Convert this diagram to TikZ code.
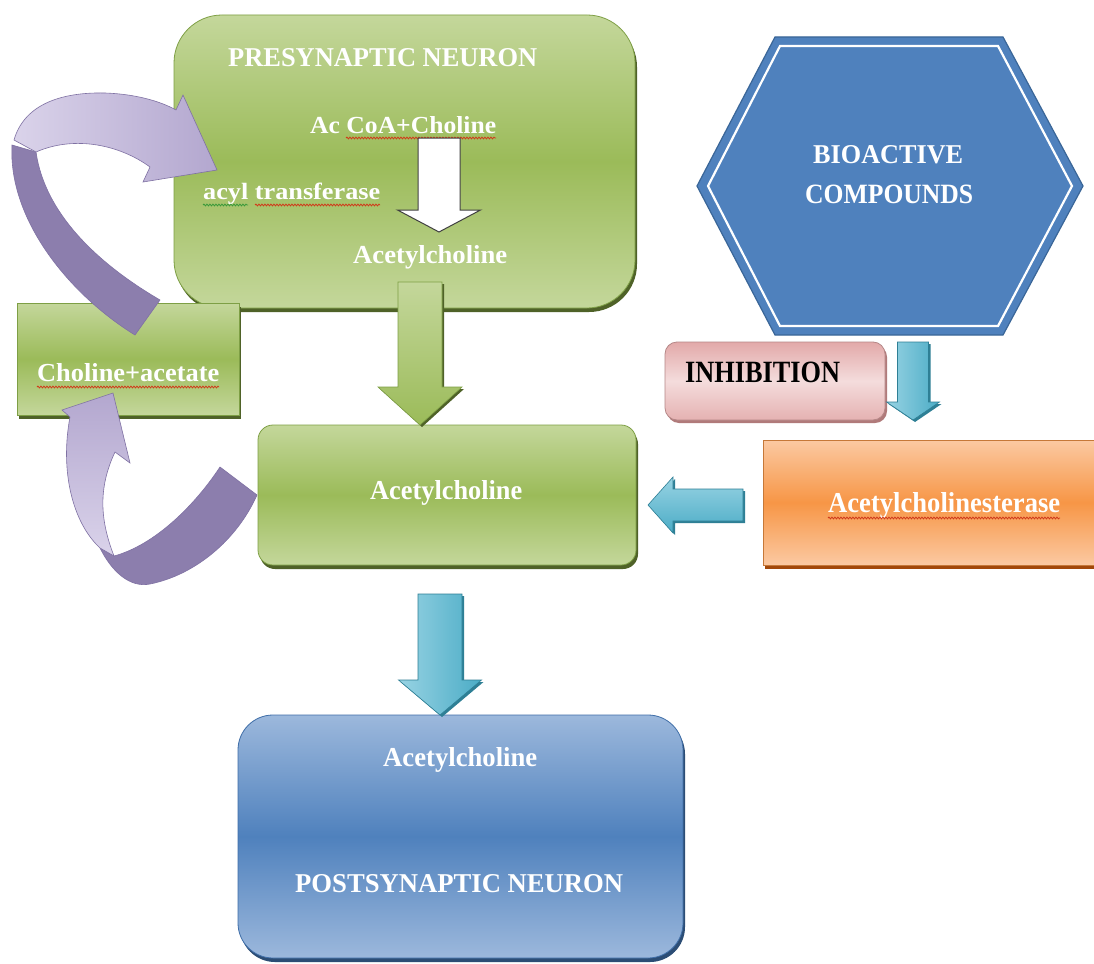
\documentclass[tikz,border=0pt]{standalone}
\usepackage{fontspec}
\setmainfont{Liberation Serif}
\usepackage{graphicx}
\usetikzlibrary{calc,shadows,decorations.pathmorphing}

\definecolor{gTop}{HTML}{C4D79B}
\definecolor{gMid}{HTML}{9BBB59}
\definecolor{gEdge}{HTML}{7E9F45}
\definecolor{gShadow}{HTML}{4F6228}
\definecolor{bTop}{HTML}{9CB8DC}
\definecolor{bMid}{HTML}{4F81BD}
\definecolor{bEdge}{HTML}{3F6EA8}
\definecolor{bShadow}{HTML}{2C4D75}
\definecolor{hexBlue}{HTML}{4F81BD}
\definecolor{hexEdge}{HTML}{3A6698}
\definecolor{pinkA}{HTML}{E2A9A9}
\definecolor{pinkB}{HTML}{F4DCDC}
\definecolor{pinkShadow}{HTML}{B07A7A}
\definecolor{orA}{HTML}{F79646}
\definecolor{orB}{HTML}{FBC9A2}
\definecolor{orShadow}{HTML}{A2480A}
\definecolor{tealM}{HTML}{4BACC6}
\definecolor{tealL}{HTML}{98D3E3}
\definecolor{tealD}{HTML}{2E7F95}
\definecolor{purD}{HTML}{8C7EAD}
\definecolor{purL}{HTML}{DAD3EA}
\definecolor{purM}{HTML}{B3A7CF}
\definecolor{purEdge}{HTML}{7F71A3}
\definecolor{squigRed}{HTML}{D03A1A}
\definecolor{squigGreen}{HTML}{3A9A3A}

\newcommand{\fitt}[3]{\resizebox{#1pt}{#2pt}{\bfseries #3}}
% vertical block arrow: style, start, tip, shaft half, head half, head length
\newcommand{\downblock}[6]{\path[#1] let \p1=(#2), \p2=(#3) in
  (\x2-#4,\y1) -- (\x2+#4,\y1) -- (\x2+#4,\y2+#6) -- (\x2+#5,\y2+#6) -- (\x2,\y2)
  -- (\x2-#5,\y2+#6) -- (\x2-#4,\y2+#6) -- cycle;}
% leftward block arrow
\newcommand{\leftblock}[6]{\path[#1] let \p1=(#2), \p2=(#3) in
  (\x1,\y2+#4) -- (\x2+#6,\y2+#4) -- (\x2+#6,\y2+#5) -- (\x2,\y2)
  -- (\x2+#6,\y2-#5) -- (\x2+#6,\y2-#4) -- (\x1,\y2-#4) -- cycle;}

\begin{document}
\begin{tikzpicture}[x=1pt,y=-1pt,
  lbl/.style={anchor=base west, inner sep=0pt, text=white},
  box/.style={inner sep=0pt, outer sep=0pt, line width=0.8pt},
  greenbox/.style={box, draw=gEdge, top color=gTop, bottom color=gTop, middle color=gMid,
     drop shadow={shadow xshift=2pt, shadow yshift=-4pt, fill=gShadow, opacity=1}},
  bluebox/.style={box, draw=bEdge, top color=bTop, bottom color=bTop, middle color=bMid,
     drop shadow={shadow xshift=2pt, shadow yshift=-4pt, fill=bShadow, opacity=1}},
  pinkbox/.style={box, draw=pinkA!80!black, top color=pinkA, bottom color=pinkA!90, middle color=pinkB,
     drop shadow={shadow xshift=2pt, shadow yshift=-3pt, fill=pinkShadow, opacity=1}},
  orangebox/.style={box, draw=orA!80!black, top color=orB, bottom color=orB, middle color=orA,
     drop shadow={shadow xshift=2pt, shadow yshift=-4pt, fill=orShadow, opacity=1}},
  squig/.style={decorate, decoration={snake, amplitude=0.9pt, segment length=3pt}, line width=0.8pt, draw=squigRed},
  greenarrow/.style={top color=gTop, bottom color=gMid, draw=gEdge, line width=0.6pt},
  tealdown/.style={left color=tealL, right color=tealM, draw=tealD, line width=0.6pt},
  tealleft/.style={top color=tealL, bottom color=tealM, draw=tealD, line width=0.6pt},
  arrshadow/.style={fill=#1, transform canvas={xshift=2pt, yshift=-2pt}},
  purdark/.style={fill=purD, draw=purEdge, line width=0.6pt},
  purlight/.style={left color=purL, right color=purM, draw=purEdge, line width=0.6pt},
  purlight2/.style={top color=purM, bottom color=purL, draw=purEdge, line width=0.6pt},
]
\useasboundingbox (0,0) rectangle (1094,963);
\fill[white] (0,0) rectangle (1094,963);

% ---------- boxes ----------
\node[greenbox, rounded corners=48pt, minimum width=461pt, minimum height=293pt] (pre) at (404.5,161.5) {};
\node[greenbox, minimum width=222pt, minimum height=112pt] (cho) at (128,359) {};
\node[greenbox, rounded corners=15pt, minimum width=378pt, minimum height=140pt] (mid) at (447,495) {};
\node[bluebox, rounded corners=35pt, minimum width=445pt, minimum height=243pt] (post) at (460.5,836.5) {};
\node[pinkbox, rounded corners=12pt, minimum width=220pt, minimum height=78pt] (inh) at (775,381) {};
\node[orangebox, minimum width=335pt, minimum height=125pt] (ace) at (930.5,502.5) {};

% ---------- hexagon ----------
\coordinate (hL) at (697,186);
\coordinate (hTL) at (775,37);
\coordinate (hTR) at (1003,37);
\coordinate (hR) at (1083,186);
\coordinate (hBR) at (1003,335);
\coordinate (hBL) at (775,335);
\fill[hexBlue, draw=hexEdge, line width=1.2pt] (hL) -- (hTL) -- (hTR) -- (hR) -- (hBR) -- (hBL) -- cycle;
\draw[white, line width=2.2pt] (708,186) -- (780,46) -- (998,46) -- (1072,186) -- (998,326) -- (780,326) -- cycle;
\node[inner sep=0pt] (hex) at (890,186) {};

% ---------- texts ----------
\node[lbl] (tPre)  at (228,67)  {\fitt{309}{18}{PRESYNAPTIC NEURON}};
\node[lbl] (tAc)   at (310,133) {\fitt{186}{17}{Ac CoA+Choline}};
\node[lbl] (tAcyl) at (203,199) {\fitt{177}{16.5}{acyl transferase}};
\node[lbl] (tAch1) at (353,263) {\fitt{154}{18}{Acetylcholine}};
\node[lbl] (tBio)  at (813,163) {\fitt{150}{18}{BIOACTIVE}};
\node[lbl] (tComp) at (805,203) {\fitt{168}{18.5}{COMPOUNDS}};
\node[lbl, text=black] (tInh) at (685,382) {\fitt{155}{20.5}{INHIBITION}};
\node[lbl] (tCho)  at (37,381)  {\fitt{182}{18}{Choline+acetate}};
\node[lbl] (tAch2) at (370,499) {\fitt{152}{19}{Acetylcholine}};
\node[lbl] (tAce)  at (828,512) {\fitt{232}{20}{Acetylcholinesterase}};
\node[lbl] (tAch3) at (383,766) {\fitt{154}{19}{Acetylcholine}};
\node[lbl] (tPost) at (295,892) {\fitt{328}{18}{POSTSYNAPTIC NEURON}};

% spelling squiggles
\draw[squig] (346,138) -- (496,138);
\draw[squig, draw=squigGreen] (203,205) -- (248,205);
\draw[squig] (255,205) -- (380,205);
\draw[squig] (37,387) -- (219,387);
\draw[squig] (828,518) -- (1060,518);

% ---------- block arrows ----------
% white arrow inside presynaptic neuron
\coordinate (wA) at (439,138);
\coordinate (wT) at (439,232);
\downblock{fill=white, draw=black!75, line width=1pt}{wA}{wT}{21pt}{41.5pt}{22pt}

% green arrow presynaptic -> acetylcholine
\coordinate (gA) at (420,282);
\downblock{arrshadow=gShadow}{gA}{gA |- mid.north}{22pt}{42pt}{38pt}
\downblock{greenarrow}{gA}{gA |- mid.north}{22pt}{42pt}{38pt}

% teal arrow hexagon -> acetylcholinesterase (inhibition)
\coordinate (tA) at (913,342);
\coordinate (tT) at (913,420);
\downblock{arrshadow=tealD}{tA}{tT}{15.5pt}{26.5pt}{18pt}
\downblock{tealdown}{tA}{tT}{15.5pt}{26.5pt}{18pt}

% teal arrow acetylcholine -> postsynaptic neuron
\coordinate (pA) at (440,594);
\downblock{arrshadow=tealD}{pA}{pA |- post.north}{22pt}{41.5pt}{35pt}
\downblock{tealdown}{pA}{pA |- post.north}{22pt}{41.5pt}{35pt}

% teal arrow acetylcholinesterase -> acetylcholine
\coordinate (lA) at (743,505);
\coordinate (lT) at (648,505);
\leftblock{arrshadow=tealD}{lA}{lT}{16pt}{28pt}{25pt}
\leftblock{tealleft}{lA}{lT}{16pt}{28pt}{25pt}

% ---------- purple curved arrows ----------
% choline+acetate -> presynaptic neuron (upper)
\path[purdark] (12,145) .. controls (8,220) and (70,295) .. (135,335) -- (160,300)
   .. controls (100,265) and (45,215) .. (36,152) -- cycle;
\path[purlight] (14,140) .. controls (24,105) and (60,92) .. (105,93)
   .. controls (135,94) and (160,101) .. (176,110) -- (183,95) -- (217,170) -- (143,182)
   -- (150,167) .. controls (120,145) and (75,135) .. (36,152) -- cycle;

% acetylcholine -> choline+acetate (lower)
\path[purdark] (100,548) .. controls (112,572) and (130,588) .. (150,584)
   .. controls (195,575) and (237,540) .. (257,495) -- (220,467)
   .. controls (195,505) and (155,545) .. (114,556) -- cycle;
\path[purlight2] (70,417) .. controls (60,470) and (72,522) .. (100,548) -- (114,556)
   .. controls (100,520) and (98,488) .. (115,452) -- (130,463) -- (113,393) -- (62,410) -- cycle;
\end{tikzpicture}
\end{document}
